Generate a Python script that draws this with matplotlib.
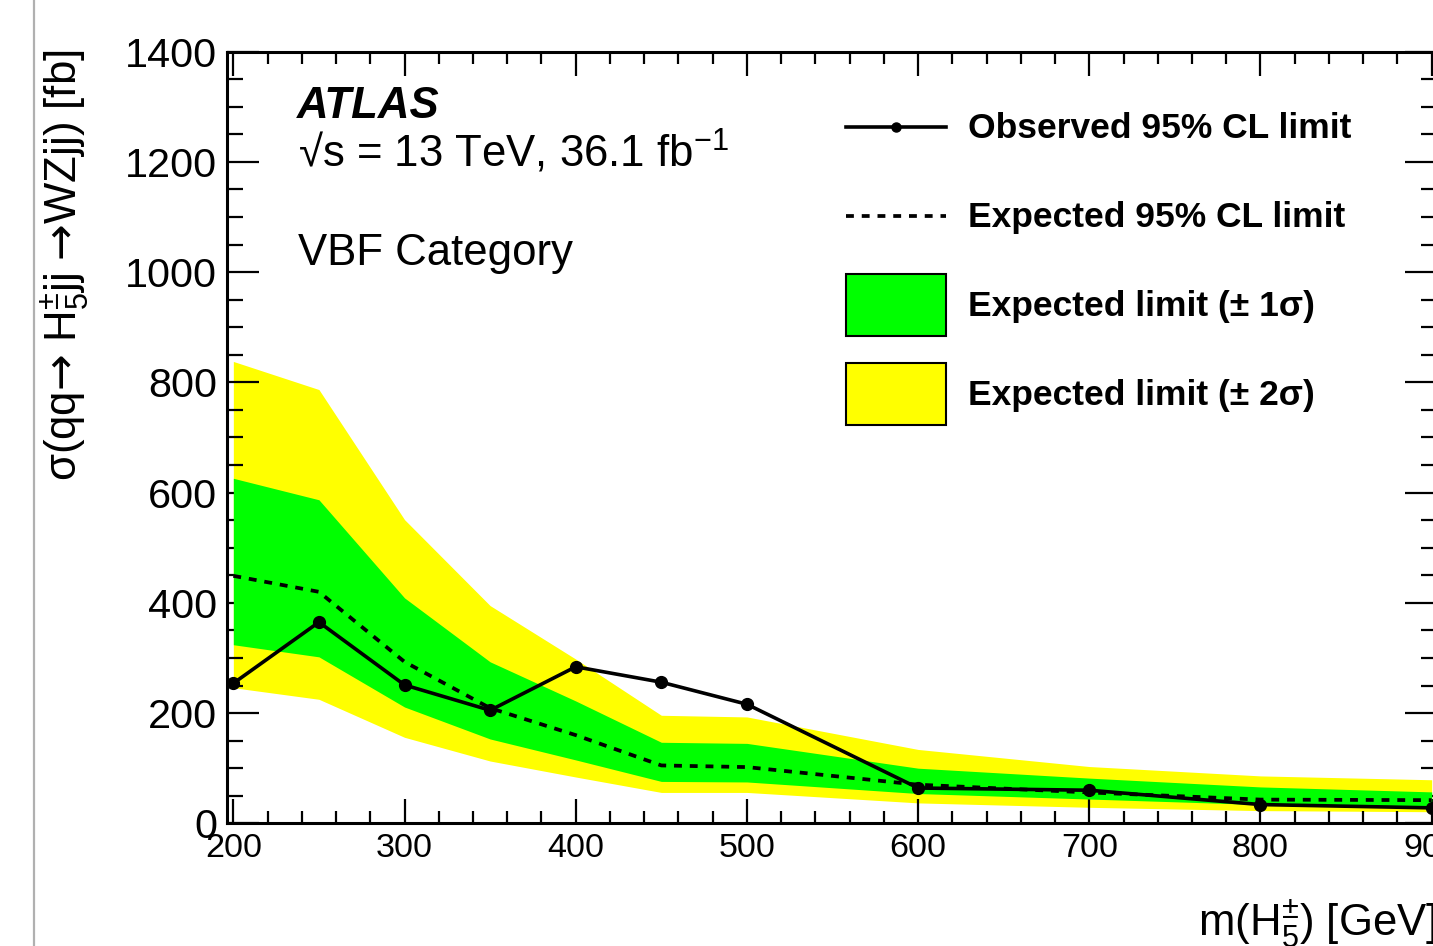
import numpy as np
import matplotlib
matplotlib.use('Agg')
import matplotlib.pyplot as plt
from matplotlib.lines import Line2D
from matplotlib.patches import Patch
from matplotlib.legend_handler import HandlerLine2D
from matplotlib.ticker import MultipleLocator
from matplotlib.transforms import blended_transform_factory

plt.rcParams['font.family'] = ['Liberation Sans', 'DejaVu Sans']
plt.rcParams['mathtext.fontset'] = 'custom'
plt.rcParams['mathtext.rm'] = 'Liberation Sans'
plt.rcParams['mathtext.it'] = 'Liberation Sans:italic'
plt.rcParams['mathtext.bf'] = 'Liberation Sans:bold'
plt.rcParams['mathtext.sf'] = 'DejaVu Sans'

# Limits (fb)
mass = [200, 250, 300, 350, 400, 450, 500, 600, 700, 800, 900]
observed = [254, 365, 251, 205, 284, 256, 216, 64, 60, 34, 28]
expected = [449, 420, 293, 209, 160, 105, 102, 70, 56, 43, 42]
band1_up = [626, 587, 409, 293, 222, 147, 145, 100, 82, 66, 57]
band1_lo = [324, 302, 211, 153, 115, 76, 75, 54, 44, 34, 28]
band2_up = [838, 787, 551, 395, 298, 196, 193, 134, 103, 86, 79]
band2_lo = [246, 225, 156, 113, 84, 56, 56, 37, 29, 23, 21]

labels = ['Observed 95% CL limit', 'Expected 95% CL limit',
          'Expected limit (± 1σ)', 'Expected limit (± 2σ)']


class CenteredLine(HandlerLine2D):
    # put the line in the middle of the (tall) handle box
    def create_artists(self, legend, orig_handle, xdescent, ydescent,
                       width, height, fontsize, trans):
        arts = super().create_artists(legend, orig_handle, xdescent, ydescent,
                                      width, height, fontsize, trans)
        for a in arts:
            a.set_ydata(np.full_like(np.asarray(a.get_ydata(), float),
                                     (height - 2 * ydescent) / 2.))
        return arts


W, H = 1433, 946
fig = plt.figure(figsize=(W / 100, H / 100), dpi=100)
ax = fig.add_axes([227 / W, 1 - 823.3 / H, (1437 - 227) / W, (823.3 - 51.7) / H])

# bands and lines
ax.fill_between(mass, band2_lo, band2_up, color='#ffff00', lw=0, zorder=1)
ax.fill_between(mass, band1_lo, band1_up, color='#00ff00', lw=0, zorder=2)
ax.plot(mass, expected, color='k', lw=2.7, dashes=(2.1, 2.1), zorder=3)
ax.plot(mass, observed, color='k', lw=2.6, marker='o', ms=8.5, zorder=4)

ax.set_xlim(196.3, 903.1)
ax.set_ylim(0, 1400)

# ROOT-like ticks
ax.xaxis.set_major_locator(MultipleLocator(100))
ax.xaxis.set_minor_locator(MultipleLocator(20))
ax.yaxis.set_major_locator(MultipleLocator(200))
ax.yaxis.set_minor_locator(MultipleLocator(50))
ax.tick_params(axis='x', which='both', direction='in', top=True, bottom=True,
               width=1.6, labelsize=24.6, pad=6.8)
ax.tick_params(axis='x', which='major', length=17.5)
ax.tick_params(axis='x', which='minor', length=8.5)
ax.tick_params(axis='y', which='both', direction='in', left=True, right=True,
               width=1.6, labelsize=29.8, pad=7)
ax.tick_params(axis='y', which='major', length=23)
ax.tick_params(axis='y', which='minor', length=11.5)
for s in ax.spines.values():
    s.set_linewidth(2.2)
    s.set_zorder(5)

# axis titles
arrow = '$\\hspace{-0.2}\\mathsf{\\rightarrow}\\hspace{-0.2}$'
fig.text(66 / W, 1 - 50 / H,
         'σ(qq' + arrow + ' H$^{\\pm}_{5}$jj ' + arrow + 'WZjj) [fb]',
         rotation=90, ha='center', va='top', fontsize=31.5)
ax.text(1.0, 1 - 936 / H, 'm(H$^{\\pm}_{5}$) [GeV]',
        transform=blended_transform_factory(ax.transAxes, fig.transFigure),
        ha='right', va='baseline', fontsize=31.5)

# ATLAS label
fig.text(297 / W, 1 - 118 / H, 'ATLAS', fontsize=31.5, fontweight='bold',
         fontstyle='italic', va='baseline')
fig.text(298 / W, 1 - 167 / H, '√s = 13 TeV, 36.1 fb$^{\\mathrm{-1}}$',
         fontsize=31.5, va='baseline')
fig.text(298 / W, 1 - 265 / H, 'VBF Category', fontsize=31.5, va='baseline')

# legend
handles = [
    Line2D([], [], color='k', lw=2.6, marker='o', ms=6.5),
    Line2D([], [], color='k', lw=2.7, dashes=(2.1, 2.1)),
    Patch(facecolor='#00ff00', edgecolor='k', lw=1.5),
    Patch(facecolor='#ffff00', edgecolor='k', lw=1.5),
]
leg = ax.legend(handles, labels, loc='upper left',
                bbox_to_anchor=(846 / W, 1 - 96 / H), bbox_transform=fig.transFigure,
                frameon=False, borderpad=0, borderaxespad=0, numpoints=1,
                prop={'size': 25.5, 'weight': 'bold'},
                handlelength=2.82, handleheight=2.32, handletextpad=0.62,
                labelspacing=0.76, handler_map={Line2D: CenteredLine()})

# page border on the left
fig.add_artist(Line2D([34 / W, 34 / W], [0, 1], transform=fig.transFigure,
                      color='#b0b0b0', lw=1.6))

fig.savefig('out.png', dpi=100)
